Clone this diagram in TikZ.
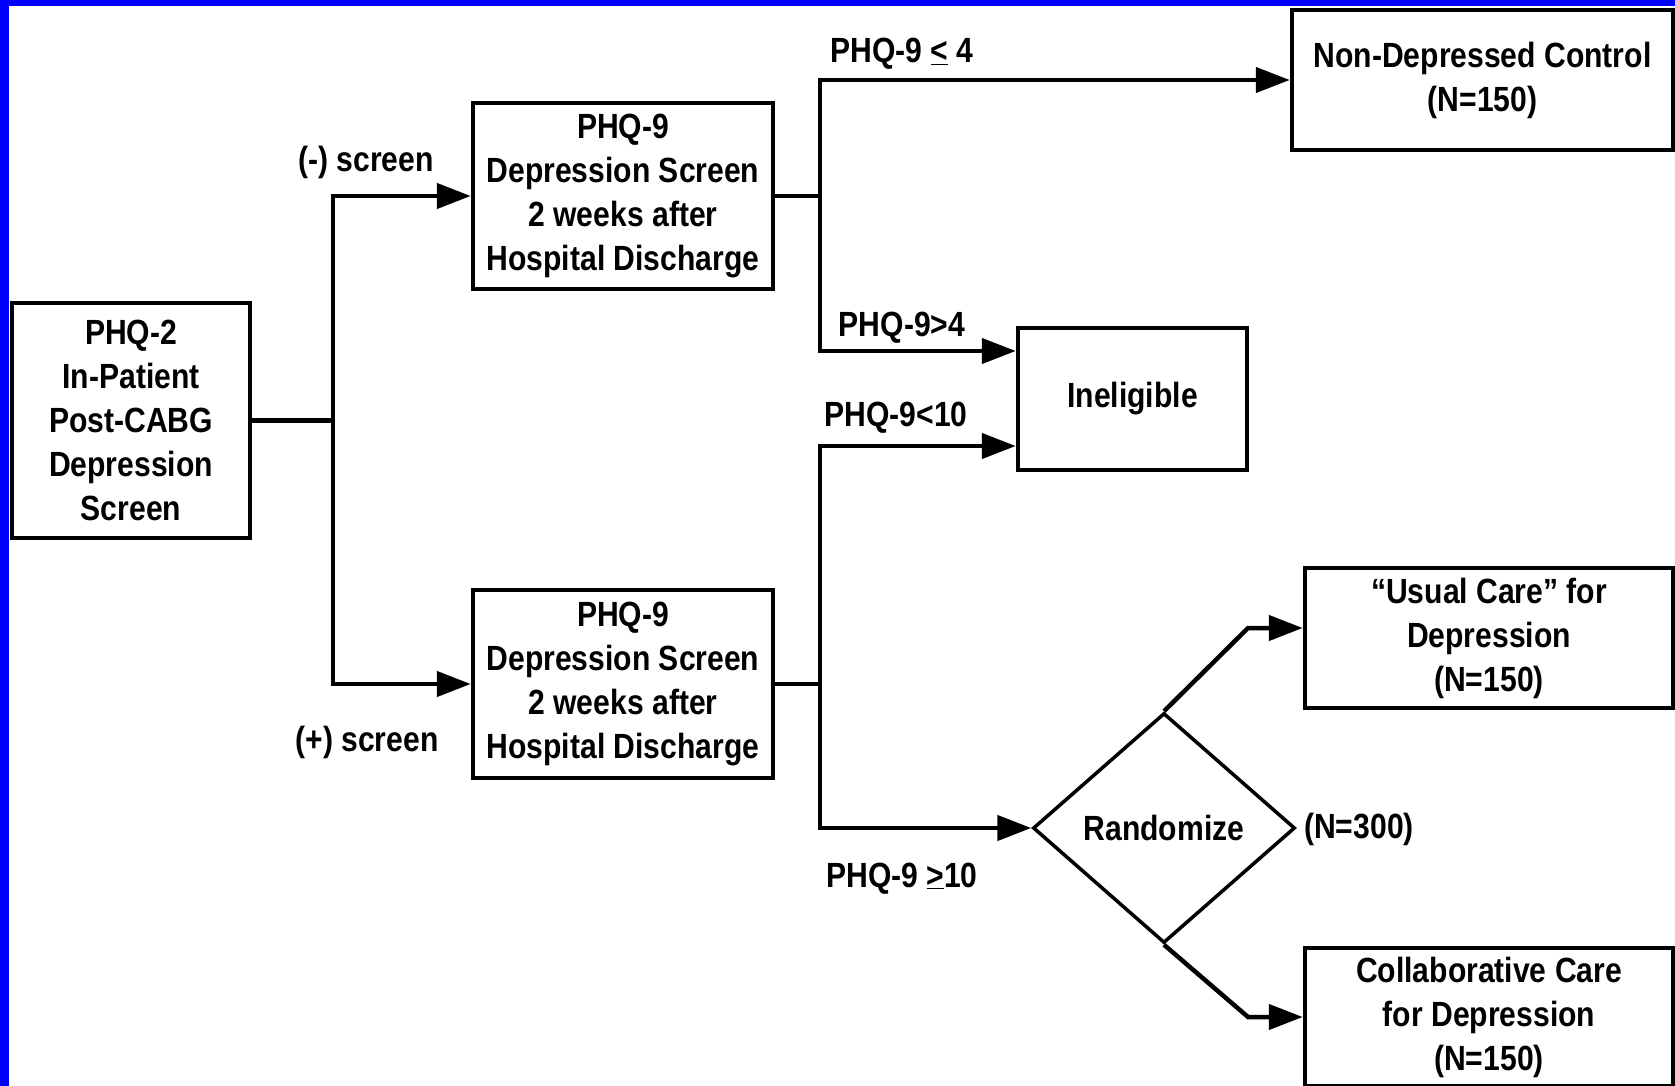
\documentclass[tikz,border=0pt]{standalone}
\usepackage{fontspec}
\setmainfont{Liberation Sans}[FakeStretch=0.86]
\usetikzlibrary{arrows.meta,shapes.geometric}
\begin{document}
\begin{tikzpicture}[x=1pt,y=-1pt,
  txt/.style={font=\fontsize{35}{44}\selectfont\bfseries},
  box/.style={txt, draw, line width=4.5pt, inner sep=0pt, align=center},
  lbl/.style={txt, inner sep=0pt, anchor=base},
  conn/.style={line width=4.5pt},
  arr/.style={line width=4.5pt, -{Triangle[length=34pt,width=25pt]}},
]
\useasboundingbox (0,0) rectangle (1675,1086);
\fill[white] (0,0) rectangle (1675,1086);
\fill[blue] (0,0) rectangle (9,1086);
\fill[blue] (0,0) rectangle (1675,6);

\node[box, minimum width=238pt, minimum height=235pt] (A) at (131,420.5) {PHQ-2\\In-Patient\\Post-CABG\\Depression\\Screen};
\node[box, minimum width=300pt, minimum height=186pt] (B) at (623,196) {PHQ-9\\Depression Screen\\2 weeks after\\Hospital Discharge};
\node[box, minimum width=300pt, minimum height=188pt] (C) at (623,684) {PHQ-9\\Depression Screen\\2 weeks after\\Hospital Discharge};
\node[box, minimum width=381pt, minimum height=140pt] (D) at (1482.5,80) {Non-Depressed Control\\(N=150)};
\node[box, minimum width=229pt, minimum height=142pt] (E) at (1132.5,399) {Ineligible};
\node[box, minimum width=368pt, minimum height=140pt] (F) at (1489,638) {“Usual Care” for\\Depression\\(N=150)};
\node[box, minimum width=368pt, minimum height=138pt] (G) at (1489,1017) {Collaborative Care\\for Depression\\(N=150)};
\node[txt, diamond, draw, line width=3.5pt, inner sep=0pt, minimum width=262pt, minimum height=230pt] (H) at (1164,828) {Randomize};

\coordinate (j1) at (333,420.5);
\coordinate (j2) at (820,196);
\coordinate (j3) at (820,684);
\coordinate (k1) at (1248,628);
\coordinate (k2) at (1248,1017);

\draw[conn] (A.east) -- (j1);
\draw[arr] (j1) |- (B.west);
\draw[arr] (j1) |- (C.west);
\draw[conn] (B.east) -- (j2);
\draw[arr] (j2) |- (D.west);
\draw[arr] (j2) |- ([yshift=48pt]E.west);
\draw[conn] (C.east) -- (j3);
\draw[arr] (j3) |- ([yshift=-47pt]E.west);
\draw[arr] (j3) |- (H.west);
\draw[arr] (H.north) -- (k1) -- ([yshift=10pt]F.west);
\draw[arr] (H.south) -- (k2) -- (G.west);

\node[lbl] (l1) at (366,172) {(-) screen};
\node[lbl] (l2) at (367,751) {(+) screen};
\node[lbl] (l3) at (902,63) {PHQ-9 \underline{<} 4};
\node[lbl] (l4) at (902,336) {PHQ-9>4};
\node[lbl] (l5) at (896,426) {PHQ-9<10};
\node[lbl] (l6) at (902,887) {PHQ-9 \underline{>}10};
\node[lbl] (l7) at (1359,838) {(N=300)};
\end{tikzpicture}
\end{document}
